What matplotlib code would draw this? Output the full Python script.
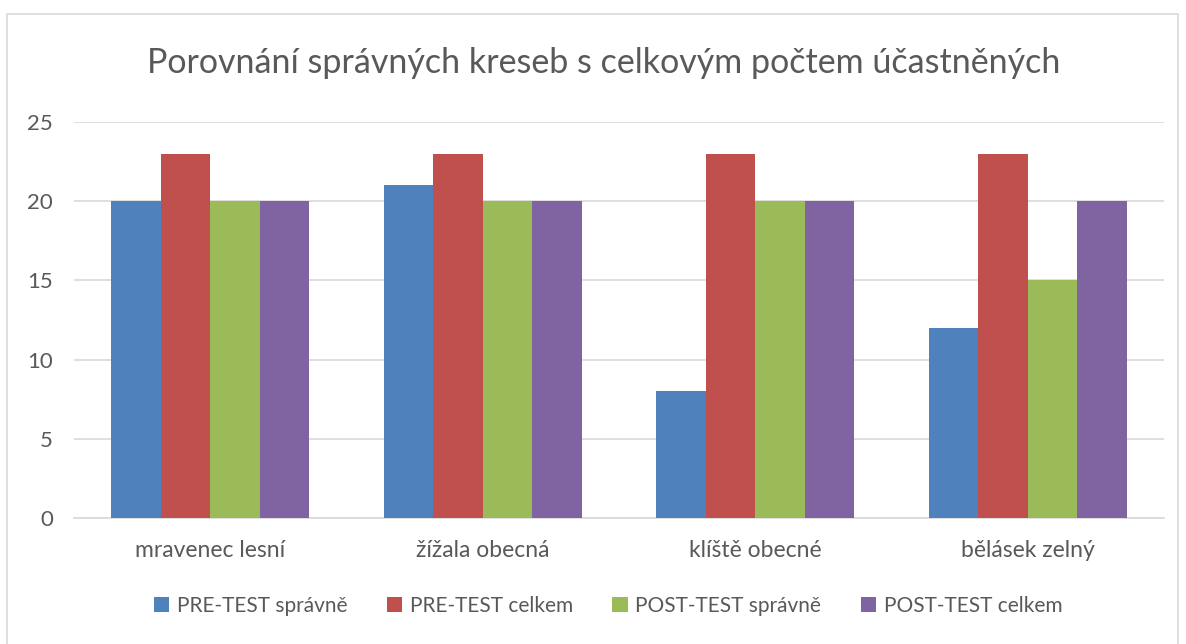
import matplotlib.pyplot as plt
import numpy as np
from matplotlib.patches import Rectangle

# data
categories = ['mravenec lesní', 'žížala obecná', 'klíště obecné', 'bělásek zelný']
series_names = ['PRE-TEST správně', 'PRE-TEST celkem', 'POST-TEST správně', 'POST-TEST celkem']
pre_ok = [20, 21, 8, 12]
pre_total = [23, 23, 23, 23]
post_ok = [20, 20, 20, 15]
post_total = [20, 20, 20, 20]
colors = ['#4F81BD', '#C0504D', '#9BBB59', '#8064A2']

plt.rcParams['font.family'] = ['Lato', 'DejaVu Sans']
text_col = '#595959'
grid_col = '#D9D9D9'

W, H = 1186, 644
fig = plt.figure(figsize=(W / 100, H / 100), dpi=100)
ax = fig.add_axes([74 / W, 1 - 518 / H, (1164 - 74) / W, (518 - 122) / H])

x = np.arange(len(categories))
bw = 0.727 / 4
for i, (vals, name) in enumerate(zip([pre_ok, pre_total, post_ok, post_total], series_names)):
    ax.bar(x + (i - 1.5) * bw, vals, bw, color=colors[i], label=name, zorder=3)

ax.set_xlim(-0.5, len(categories) - 0.5)
ax.set_ylim(0, 25)
ax.set_yticks(range(0, 26, 5))
ax.grid(axis='y', color=grid_col, linewidth=1.2, zorder=0)
for s in ['top', 'right', 'left']:
    ax.spines[s].set_visible(False)
ax.spines['bottom'].set_color(grid_col)
ax.spines['bottom'].set_linewidth(1.2)
ax.tick_params(axis='both', length=0, colors=text_col)
ax.tick_params(axis='y', pad=15, labelsize=16)
ax.tick_params(axis='x', pad=16, labelsize=16.5)
ax.set_xticks(x)
ax.set_xticklabels(categories)

fig.text(604 / W, 1 - 63 / H, 'Porovnání správných kreseb s celkovým počtem účastněných',
         ha='center', va='center', fontsize=24.5, color=text_col)

fig.legend(loc='center', bbox_to_anchor=(608 / W, 1 - 606 / H), ncol=4, frameon=False,
           fontsize=15, labelcolor=text_col, handlelength=0.75, handleheight=0.75,
           handletextpad=0.35, columnspacing=1.9)

# chart border
fig.patches.append(Rectangle((7 / W, -0.01), (1178 - 7) / W, 1 - 14 / H + 0.01,
                             transform=fig.transFigure, fill=False,
                             edgecolor='#D9D9D9', linewidth=1.2))

fig.savefig('out.png', dpi=100, facecolor='white')
